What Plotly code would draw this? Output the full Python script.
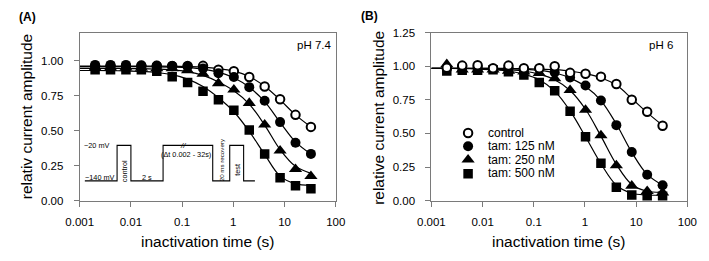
import plotly.graph_objects as go

# ---------------- data ----------------
t_data = [0.002, 0.004, 0.008, 0.016, 0.032, 0.064, 0.128, 0.256, 0.512,
          1.024, 2.048, 4.096, 8.192, 16.384, 32.768]
t_fit = [0.001] + t_data

series_names = ["control", "tam: 125 nM", "tam: 250 nM", "tam: 500 nM"]

# Panel A (pH 7.4) measured points
a_control = [0.962, 0.962, 0.962, 0.962, 0.962, 0.962, 0.962, 0.963, 0.936, 0.925, 0.884, 0.816, 0.725, 0.613, 0.527]
a_125 = [0.970, 0.970, 0.970, 0.967, 0.965, 0.962, 0.958, 0.945, 0.910, 0.884, 0.811, 0.714, 0.561, 0.414, 0.334]
a_250 = [0.950, 0.950, 0.950, 0.948, 0.945, 0.945, 0.930, 0.905, 0.838, 0.793, 0.697, 0.543, 0.357, 0.225, 0.175]
a_500 = [0.935, 0.935, 0.935, 0.935, 0.925, 0.886, 0.845, 0.782, 0.720, 0.645, 0.504, 0.334, 0.164, 0.107, 0.084]
# Panel A fitted curves
a_control_fit = [0.962, 0.962, 0.962, 0.962, 0.962, 0.961, 0.960, 0.958, 0.954, 0.944, 0.925, 0.887, 0.817, 0.720, 0.613, 0.527]
a_125_fit = [0.958, 0.958, 0.958, 0.957, 0.957, 0.956, 0.954, 0.950, 0.940, 0.918, 0.878, 0.810, 0.708, 0.560, 0.420, 0.333]
a_250_fit = [0.945, 0.945, 0.945, 0.944, 0.943, 0.940, 0.935, 0.922, 0.895, 0.848, 0.785, 0.690, 0.540, 0.365, 0.245, 0.195]
a_500_fit = [0.930, 0.930, 0.929, 0.927, 0.923, 0.915, 0.900, 0.868, 0.815, 0.735, 0.635, 0.495, 0.330, 0.175, 0.120, 0.110]

# Panel B (pH 6) measured points
b_control = [0.990, 1.005, 1.008, 0.985, 1.005, 0.985, 0.985, 1.000, 0.951, 0.944, 0.923, 0.868, 0.751, 0.661, 0.557]
b_125 = [0.980, 1.000, 0.990, 0.980, 0.990, 0.975, 0.982, 0.955, 0.916, 0.857, 0.746, 0.562, 0.362, 0.192, 0.114]
b_250 = [1.015, 0.975, 0.975, 0.975, 0.965, 0.960, 0.950, 0.910, 0.822, 0.675, 0.485, 0.262, 0.110, 0.070, 0.060]
b_500 = [0.965, 0.970, 0.970, 0.975, 0.960, 0.935, 0.880, 0.818, 0.665, 0.475, 0.278, 0.100, 0.042, 0.033, 0.033]
# Panel B fitted curves
b_control_fit = [0.985, 0.985, 0.985, 0.985, 0.985, 0.984, 0.983, 0.980, 0.975, 0.965, 0.945, 0.915, 0.860, 0.760, 0.655, 0.560]
b_125_fit = [0.985, 0.985, 0.985, 0.985, 0.984, 0.982, 0.978, 0.970, 0.952, 0.912, 0.850, 0.745, 0.570, 0.360, 0.195, 0.115]
b_250_fit = [0.985, 0.985, 0.984, 0.983, 0.980, 0.975, 0.965, 0.942, 0.900, 0.820, 0.680, 0.480, 0.270, 0.120, 0.070, 0.062]
b_500_fit = [0.985, 0.984, 0.983, 0.980, 0.975, 0.965, 0.942, 0.900, 0.815, 0.668, 0.475, 0.275, 0.115, 0.055, 0.042, 0.040]

x_tickvals = [0.001, 0.01, 0.1, 1, 10, 100]
x_ticktext = ["0.001", "0.01", "0.1", "1", "10", "100"]
ya_tickvals = [0, 0.25, 0.5, 0.75, 1.0]
ya_ticktext = ["0.00", "0.25", "0.50", "0.75", "1.00"]
yb_tickvals = [0, 0.25, 0.5, 0.75, 1.0, 1.25]
yb_ticktext = ["0.00", "0.25", "0.50", "0.75", "1.00", "1.25"]

# voltage-protocol inset (panel A), in axis units
protocol_t = [0.00126, 0.00537, 0.00537, 0.01, 0.01, 0.0425, 0.0425, 0.396, 0.396, 0.851, 0.851, 1.59, 1.59, 2.64]
protocol_v = [0.141, 0.141, 0.395, 0.395, 0.141, 0.141, 0.395, 0.395, 0.141, 0.141, 0.395, 0.395, 0.141, 0.141]

# ---------------- styles ----------------
W, H = 709, 261
FONT = "Liberation Sans, Arial, sans-serif"
FRAME = "#7a7a7a"

markers = [
    dict(symbol="circle", size=8.5, color="white", line=dict(color="black", width=2)),
    dict(symbol="circle", size=10, color="black", line=dict(width=0)),
    dict(symbol="triangle-up", size=11.5, color="black", line=dict(width=0)),
    dict(symbol="square", size=9.5, color="black", line=dict(width=0)),
]

def px(x):
    return x / W

def py(y):
    return 1 - y / H

fig = go.Figure()

panels = [
    ("x", "y", [a_control, a_125, a_250, a_500], [a_control_fit, a_125_fit, a_250_fit, a_500_fit], [0, 3, 2, 1]),
    ("x2", "y2", [b_control, b_125, b_250, b_500], [b_control_fit, b_125_fit, b_250_fit, b_500_fit], [3, 2, 1, 0]),
]

for xa, ya, pts, fits, order in panels:
    for i in range(4):
        fig.add_trace(go.Scatter(x=t_fit, y=fits[i], mode="lines", xaxis=xa, yaxis=ya,
                                 line=dict(color="black", width=1.2, shape="spline", smoothing=1.0),
                                 showlegend=False, hoverinfo="skip"))
    for i in order:
        fig.add_trace(go.Scatter(x=t_data, y=pts[i], mode="markers", xaxis=xa, yaxis=ya,
                                 marker=markers[i], name=series_names[i], showlegend=False))

# protocol inset
fig.add_trace(go.Scatter(x=protocol_t, y=protocol_v, mode="lines", xaxis="x", yaxis="y",
                         line=dict(color="black", width=1.1), showlegend=False, hoverinfo="skip"))

# manual legend in panel B (marker keys)
legend_t = [0.00521] * 4
legend_v = [0.504, 0.405, 0.305, 0.200]
for i in range(4):
    m = dict(markers[i])
    fig.add_trace(go.Scatter(x=[legend_t[i]], y=[legend_v[i]], mode="markers", xaxis="x2", yaxis="y2",
                             marker=m, showlegend=False, hoverinfo="skip"))

ydom = [1 - 204 / H, 1 - 28 / H]
axis_common = dict(showline=True, mirror=True, linecolor=FRAME, linewidth=1,
                   ticks="outside", ticklen=5, tickcolor=FRAME, tickwidth=1,
                   showgrid=False, zeroline=False,
                   tickfont=dict(family=FONT, size=11.5, color="black"))

fig.update_layout(
    width=W, height=H, margin=dict(l=0, r=0, t=0, b=0),
    paper_bgcolor="white", plot_bgcolor="white",
    xaxis=dict(type="log", range=[-3, 2], domain=[68 / W, 333 / W], anchor="y",
               tickvals=x_tickvals, ticktext=x_ticktext, ticklabelstandoff=6, **axis_common),
    yaxis=dict(range=[0, 1.2], domain=ydom, anchor="x",
               tickvals=ya_tickvals, ticktext=ya_ticktext, ticklabelstandoff=8, **axis_common),
    xaxis2=dict(type="log", range=[-3, 2], domain=[432 / W, 697 / W], anchor="y2",
                tickvals=x_tickvals, ticktext=x_ticktext, ticklabelstandoff=6, **axis_common),
    yaxis2=dict(range=[0, 1.25], domain=ydom, anchor="x2",
                tickvals=yb_tickvals, ticktext=yb_ticktext, ticklabelstandoff=8, **axis_common),
    showlegend=False,
)

ann = []

def add_text(text, x, y, size, xanchor="center", yanchor="middle", angle=0, bold=False):
    ann.append(dict(text=("<b>%s</b>" % text) if bold else text, x=px(x), y=py(y),
                    xref="paper", yref="paper", xanchor=xanchor, yanchor=yanchor,
                    textangle=angle, showarrow=False,
                    font=dict(family=FONT, size=size, color="black")))

add_text("(A)", 3, 12, 12, xanchor="left", bold=True)
add_text("(B)", 357, 11, 12, xanchor="left", bold=True)
add_text("pH 7.4", 330, 41, 11.5, xanchor="right")
add_text("pH 6", 684, 41, 11.5, xanchor="right")
add_text("inactivation time (s)", 200.5, 247, 15.5)
add_text("inactivation time (s)", 564.5, 247, 15.5)
add_text("relativ current amplitude", 13, 116, 15.5, angle=-90)
add_text("relative current amplitude", 377, 117, 15.5, angle=-90)

legend_rows = [133.5, 147, 161, 175.5]
for name, yy in zip(series_names, legend_rows):
    add_text(name, 489, yy, 12, xanchor="left")

# protocol labels
add_text("\u221220 mV", 85.5, 146.5, 7.3)
add_text("\u2212140 mV", 89, 179.5, 7.3)
add_text("control", 114, 173, 7.3, angle=-90)
add_text("2 s", 138, 180, 7.3)
add_text("(\u0394t 0.002 - 32s)", 178.5, 156, 7.3)
add_text("20 ms recovery", 214.5, 161.5, 6.2, angle=-90)
add_text("test", 230.5, 172, 7.3, angle=-90)
add_text("<i>//</i>", 175, 146, 8)

fig.update_layout(annotations=ann)

fig.write_html("out.html")
